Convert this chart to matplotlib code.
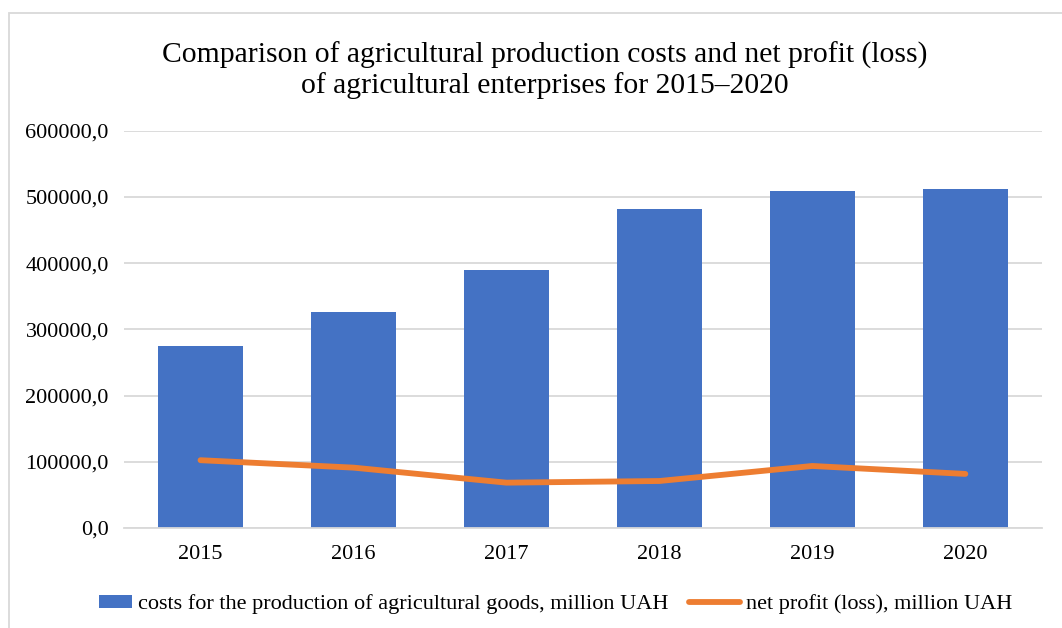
import matplotlib
matplotlib.use("Agg")
import matplotlib.pyplot as plt
from matplotlib.ticker import FuncFormatter
from matplotlib.patches import Rectangle, Patch
from matplotlib.lines import Line2D
from matplotlib.legend_handler import HandlerPatch

plt.rcParams['font.family'] = ['Liberation Serif', 'DejaVu Serif']

years = ['2015', '2016', '2017', '2018', '2019', '2020']
costs = [275200, 326600, 389100, 481900, 509100, 512600]
profit = [102400, 91200, 68500, 71000, 93700, 81700]

title = ("Comparison of agricultural production costs and net profit (loss)\n"
         "of agricultural enterprises for 2015\u20132020")
cost_label = "costs for the production of agricultural goods, million UAH"
profit_label = "net profit (loss), million UAH"

blue = '#4472C4'
orange = '#ED7D31'
grid = '#D9D9D9'

fig = plt.figure(figsize=(10.62, 6.28), dpi=100)
ax = fig.add_axes([0.1168, 0.1592, 0.981 - 0.1168, 0.7919 - 0.1592])

x = list(range(len(years)))
ax.bar(x, costs, width=0.56, color=blue, zorder=2)
ax.plot(x, profit, color=orange, lw=4.2, solid_capstyle='round', zorder=3)

ax.set_xlim(-0.5, 5.5)
ax.set_ylim(0, 600000)
ax.set_yticks(range(0, 600001, 100000))
ax.yaxis.set_major_formatter(FuncFormatter(lambda v, p: f"{v:.1f}".replace('.', ',')))
ax.set_xticks(x)
ax.set_xticklabels(years)
ax.tick_params(axis='both', length=0, labelsize=16, colors='#000000')
ax.tick_params(axis='y', pad=11)
ax.tick_params(axis='x', pad=12)
ax.grid(axis='y', color=grid, lw=1.3, zorder=0)
for s in ['top', 'right', 'left']:
    ax.spines[s].set_visible(False)
ax.spines['bottom'].set_color(grid)
ax.spines['bottom'].set_linewidth(1.3)

fig.text(0.513, 0.888, title, ha='center', va='center', fontsize=21.3,
         linespacing=1.12)

# chart border
fig.patches.append(Rectangle((9 / 1062, -0.1), 1.2, 1.1 - 13 / 628,
                             transform=fig.transFigure, fill=False,
                             edgecolor='#D9D9D9', lw=1.3))


def short_box(legend, orig_handle, xdescent, ydescent, width, height, fontsize):
    w = width * 0.63
    return Rectangle((-xdescent + width - w, -ydescent), w, height)


handles = [Patch(facecolor=blue, edgecolor='none'),
           Line2D([0], [0], color=orange, lw=4.2, solid_capstyle='round')]
fig.legend(handles, [cost_label, profit_label], loc='center',
           bbox_to_anchor=(0.5146, 0.038), ncol=2, frameon=False,
           fontsize=16, handlelength=2.3, handleheight=0.5,
           handletextpad=0.3, columnspacing=0.9,
           handler_map={Patch: HandlerPatch(patch_func=short_box)})

fig.savefig('out.png', dpi=100)
